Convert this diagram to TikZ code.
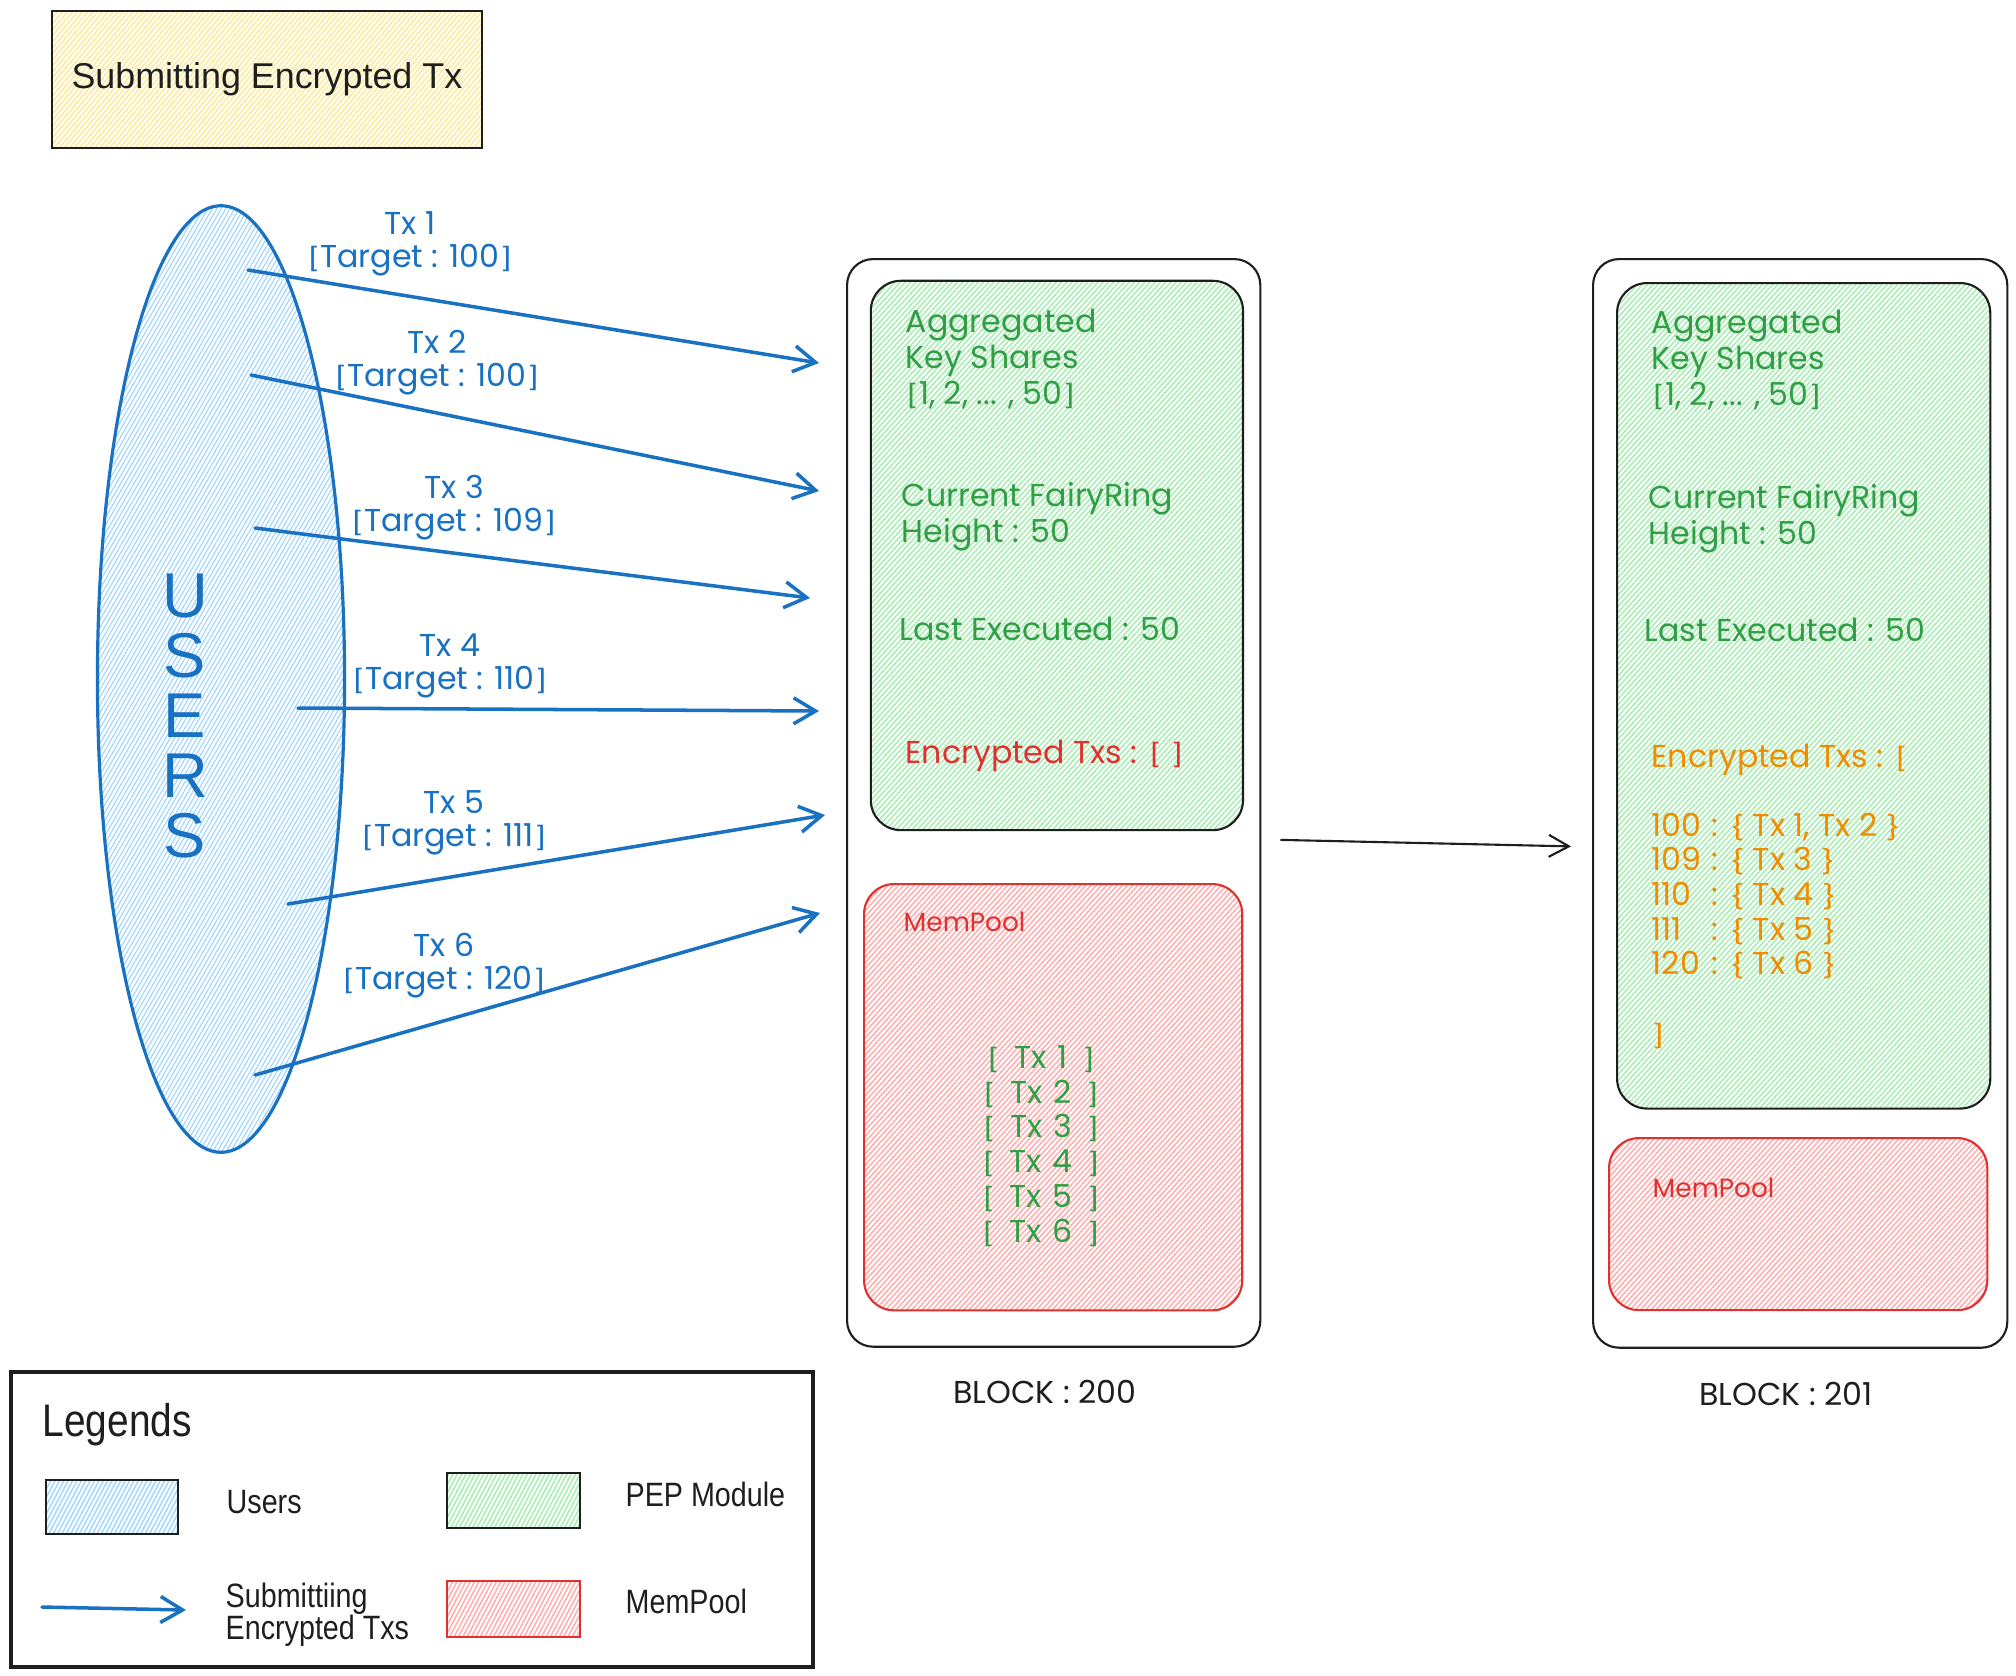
\documentclass[tikz,border=0pt]{standalone}
\usepackage{fontspec}
\usepackage{graphicx}
\usetikzlibrary{arrows.meta,shapes.geometric,patterns.meta,calc}

\newfontfamily\handfont{Poppins}
\newfontfamily\helvfont{Liberation Sans}
\newfontfamily\narrowfont{Liberation Sans}[FakeStretch=0.85]

\definecolor{ink}{HTML}{1E1E1E}
\definecolor{userblue}{HTML}{1971C2}
\definecolor{hatchblue}{HTML}{A5D8FF}
\definecolor{pepgreen}{HTML}{2F9E44}
\definecolor{hatchgreen}{HTML}{A9EEB3}
\definecolor{poolred}{HTML}{E03131}
\definecolor{hatchred}{HTML}{FFAFAF}
\definecolor{queueorange}{HTML}{F08C00}
\definecolor{hatchyellow}{HTML}{FFEC99}

% short brackets and braces, about as tall as the digits
\newcommand\opensq{\scalebox{1}[0.72]{[}}
\newcommand\closesq{\scalebox{1}[0.72]{]}}
\newcommand\opencurl{\scalebox{1}[0.75]{\{}}
\newcommand\closecurl{\scalebox{1}[0.75]{\}}}
% one mempool entry
\newcommand\poolitem[1]{\opensq\hspace{0.45em}Tx\hspace{0.35em}#1\hspace{0.45em}\closesq}
% fixed-width key column for the encrypted-tx queue
\newcommand\numkey[1]{\makebox[1.9em][l]{#1}}

\tikzset{
  hatch/.style={pattern={Lines[angle=#1,distance=1.1pt,line width=0.45pt]}},
  lighthatch/.style={pattern={Lines[angle=#1,distance=1.1pt,line width=0.35pt]}},
  evenlines/.style={execute at begin node={\lineskiplimit=-20pt\lineskip=0pt}},
  blockbox/.style={draw=ink, line width=0.6pt, rounded corners=0.26cm,
    anchor=north west, inner sep=0},
  pepbox/.style={draw=ink, line width=0.6pt, rounded corners=0.3cm,
    hatch=48, pattern color=hatchgreen, anchor=north west, inner sep=0},
  poolbox/.style={draw=poolred, line width=0.6pt, rounded corners=0.3cm,
    hatch=48, pattern color=hatchred, anchor=north west, inner sep=0},
  hand/.style={font=\handfont\fontsize{9}{10.2}\selectfont, inner sep=0,
    align=left, evenlines},
  handsmall/.style={font=\handfont\fontsize{7.5}{9}\selectfont, inner sep=0},
  txlabel/.style={font=\handfont\fontsize{9}{9.4}\selectfont, inner sep=0,
    align=center, text=userblue, evenlines},
  submit/.style={draw=userblue, line width=1pt, line cap=round,
    -{Straight Barb[length=0.22cm,width=0.26cm]}},
  link/.style={draw=ink, line width=0.6pt,
    -{Straight Barb[length=0.2cm,width=0.22cm]}},
  swatch/.style={line width=0.5pt, anchor=north west, inner sep=0, hatch=62},
  legtext/.style={font=\narrowfont\fontsize{9.6}{9.1}\selectfont, text=ink,
    anchor=west, inner sep=0, align=left},
}

\begin{document}
\begin{tikzpicture}[x=0.01cm,y=-0.01cm]
\fill[white] (0,0) rectangle (2016,1675);
\useasboundingbox (0,0) rectangle (2016,1675);

% heading
\node[draw=ink, line width=0.6pt, hatch=50, pattern color=hatchyellow,
  anchor=north west, minimum width=4.30cm, minimum height=1.37cm, inner sep=0,
  font=\helvfont\fontsize{10.2}{12}\selectfont, text=ink] (title) at (51,10)
  {Submitting Encrypted Tx};

% users
\node[ellipse, draw=userblue, line width=0.9pt, lighthatch=60, pattern color=hatchblue,
  minimum width=2.47cm, minimum height=9.46cm, inner sep=0] (users) at (221,679) {};
\node[font=\helvfont\fontsize{18}{17.1}\selectfont, text=userblue, align=center,
  inner sep=0] (userstext) at (185,716) {U\\S\\E\\R\\S};

% transactions sent by the users
\coordinate (s1) at (248,270);  \coordinate (t1) at (819,363);
\coordinate (s2) at (251,375);  \coordinate (t2) at (819,491);
\coordinate (s3) at (255,528);  \coordinate (t3) at (810,598);
\coordinate (s4) at (298,708);  \coordinate (t4) at (819,711);
\coordinate (s5) at (288,904);  \coordinate (t5) at (825,815);
\coordinate (s6) at (255,1075); \coordinate (t6) at (820,913);
\draw[submit] (s1) -- (t1);
\draw[submit] (s2) -- (t2);
\draw[submit] (s3) -- (t3);
\draw[submit] (s4) -- (t4);
\draw[submit] (s5) -- (t5);
\draw[submit] (s6) -- (t6);
\node[txlabel] (l1) at (410,244) {Tx 1\\\opensq Target : 100\closesq};
\node[txlabel] (l2) at (437,363) {Tx 2\\\opensq Target : 100\closesq};
\node[txlabel] (l3) at (454,508) {Tx 3\\\opensq Target : 109\closesq};
\node[txlabel] (l4) at (450,666) {Tx 4\\\opensq Target : 110\closesq};
\node[txlabel] (l5) at (454,823) {Tx 5\\\opensq Target : 111\closesq};
\node[txlabel] (l6) at (444,966) {Tx 6\\\opensq Target : 120\closesq};

% block 200
\node[blockbox, minimum width=4.13cm, minimum height=10.87cm] (b200) at (846,258) {};
\node[pepbox, minimum width=3.72cm, minimum height=5.49cm] (pep200) at (870,280) {};
\node[poolbox, minimum width=3.78cm, minimum height=4.26cm] (pool200) at (863,883) {};
\node[hand, text=pepgreen, anchor=west] (k200) at (905,359)
  {Aggregated\\Key Shares\\\opensq 1, 2, ... , 50\closesq};
\node[hand, text=pepgreen, anchor=west] (h200) at (901,517)
  {Current FairyRing\\Height : 50};
\node[hand, text=pepgreen, anchor=west] (x200) at (899,629) {Last Executed : 50};
\node[hand, text=poolred, anchor=west] (e200) at (905,756)
  {Encrypted Txs : \opensq\ \closesq};
\node[handsmall, text=poolred, anchor=west] (m200) at (903,922) {MemPool};
\node[hand, text=pepgreen, align=center, font=\handfont\fontsize{9}{9.9}\selectfont]
  (q200) at (1041,1146)
  {\poolitem{1}\\\poolitem{2}\\\poolitem{3}\\\poolitem{4}\\\poolitem{5}\\\poolitem{6}};
\node[hand, text=ink] (lbl200) at (1045,1392) {BLOCK : 200};

% block 201
\node[blockbox, minimum width=4.14cm, minimum height=10.88cm] (b201) at (1592,258) {};
\node[pepbox, minimum width=3.73cm, minimum height=8.25cm] (pep201) at (1616,282) {};
\node[poolbox, minimum width=3.78cm, minimum height=1.72cm] (pool201) at (1608,1137) {};
\node[hand, text=pepgreen, anchor=west] (k201) at (1651,360)
  {Aggregated\\Key Shares\\\opensq 1, 2, ... , 50\closesq};
\node[hand, text=pepgreen, anchor=west] (h201) at (1648,519)
  {Current FairyRing\\Height : 50};
\node[hand, text=pepgreen, anchor=west] (x201) at (1644,630) {Last Executed : 50};
\node[hand, text=queueorange, anchor=west, font=\handfont\fontsize{9}{9.85}\selectfont]
  (e201) at (1651,896)
  {Encrypted Txs : \opensq\\\mbox{}\\
   \numkey{100}: \opencurl\ Tx 1, Tx 2 \closecurl\\
   \numkey{109}: \opencurl\ Tx 3 \closecurl\\
   \numkey{110}: \opencurl\ Tx 4 \closecurl\\
   \numkey{111}: \opencurl\ Tx 5 \closecurl\\
   \numkey{120}: \opencurl\ Tx 6 \closecurl\\\mbox{}\\
   \closesq};
\node[handsmall, text=poolred, anchor=west] (m201) at (1652,1188) {MemPool};
\node[hand, text=ink] (lbl201) at (1786,1394) {BLOCK : 201};

% block 200 leads to block 201
\coordinate (bridgeA) at ($(b200.east)+(19,37)$);
\coordinate (bridgeB) at ($(b201.west)+(-21,43)$);
\draw[link] (bridgeA) -- (bridgeB);

% legend
\node[draw=ink, line width=1.1pt, anchor=north west, minimum width=8.02cm,
  minimum height=2.95cm, inner sep=0] (legend) at (9,1370) {};
\node[font=\narrowfont\fontsize{13}{15}\selectfont, text=ink, anchor=west,
  inner sep=0] (legtitle) at (42,1425) {Legends};
\node[swatch, draw=ink, pattern color=hatchblue, minimum width=1.32cm,
  minimum height=0.54cm] (keyusers) at (45,1479) {};
\node[legtext] (keyuserstext) at (226,1502) {Users};
\node[swatch, draw=ink, pattern color=hatchgreen, minimum width=1.33cm,
  minimum height=0.55cm] (keypep) at (446,1472) {};
\node[legtext] (keypeptext) at (625,1494) {PEP Module};
\coordinate (keyarrowA) at (42,1607);
\coordinate (keyarrowB) at (186,1610);
\draw[submit] (keyarrowA) -- (keyarrowB);
\node[legtext] (keysubmittext) at (225,1615) {Submittiing\\Encrypted Txs};
\node[swatch, draw=poolred, pattern color=hatchred, minimum width=1.33cm,
  minimum height=0.56cm] (keypool) at (446,1580) {};
\node[legtext] (keypooltext) at (625,1601) {MemPool};
\end{tikzpicture}
\end{document}
